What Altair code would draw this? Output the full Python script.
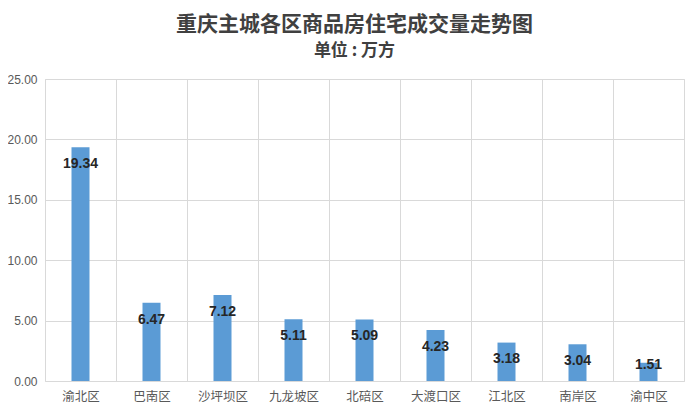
import altair as alt
import pandas as pd

districts = ["渝北区", "巴南区", "沙坪坝区", "九龙坡区", "北碚区", "大渡口区", "江北区", "南岸区", "渝中区"]
volumes = [19.34, 6.47, 7.12, 5.11, 5.09, 4.23, 3.18, 3.04, 1.51]
y_ticks = [0, 5, 10, 15, 20, 25]

df = pd.DataFrame({"district": districts, "volume": volumes})

cjk = "Noto Sans CJK SC"

x = alt.X(
    "district:N",
    sort=districts,
    title=None,
    scale=alt.Scale(paddingInner=0, paddingOuter=0),
    axis=alt.Axis(
        grid=True, tickBand="extent", ticks=False, domain=False, labelAngle=0,
        labelFont=cjk, labelFontSize=12.5, labelColor="#595959", labelPadding=9,
        gridColor="#d9d9d9",
    ),
)
y_scale = alt.Scale(domain=[0, 25], nice=False)
y_axis = alt.Axis(
    values=y_ticks, format=".2f", grid=True, ticks=False, domain=False,
    labelFont="Liberation Sans", labelFontSize=12, labelColor="#595959",
    labelPadding=8, gridColor="#d9d9d9",
)

bars = alt.Chart(df).mark_bar(size=18, color="#5b9bd5").encode(
    x=x, y=alt.Y("volume:Q", title=None, scale=y_scale, axis=y_axis)
)
labels = (
    alt.Chart(df)
    .transform_calculate(label_pos="max(datum.volume - 1.4, 1.32)")
    .mark_text(
        baseline="middle", fontSize=14, fontWeight="bold",
        font="Liberation Sans", color="#262626",
    )
    .encode(
        x=x,
        y=alt.Y("label_pos:Q", title=None, scale=y_scale, axis=y_axis),
        text=alt.Text("volume:Q", format=".2f"),
    )
)

chart = (
    (bars + labels)
    .properties(
        width=639,
        height=302,
        autosize="none",
        padding={"left": 37, "top": 71, "right": 8, "bottom": 22},
        title=alt.Title(
            text="重庆主城各区商品房住宅成交量走势图",
            subtitle="单位 : 万方",
            font=cjk, fontSize=21, fontWeight="bold", color="#404040",
            subtitleFont=cjk, subtitleFontSize=17, subtitleFontWeight="bold",
            subtitleColor="#404040", subtitlePadding=8,
            anchor="middle", offset=14, dx=-10,
        ),
    )
    .configure_view(stroke="#d9d9d9", fill="#f4f4f4")
    .configure(background="white")
)

chart.save("out.html", embed_options={"renderer": "svg", "actions": False})
